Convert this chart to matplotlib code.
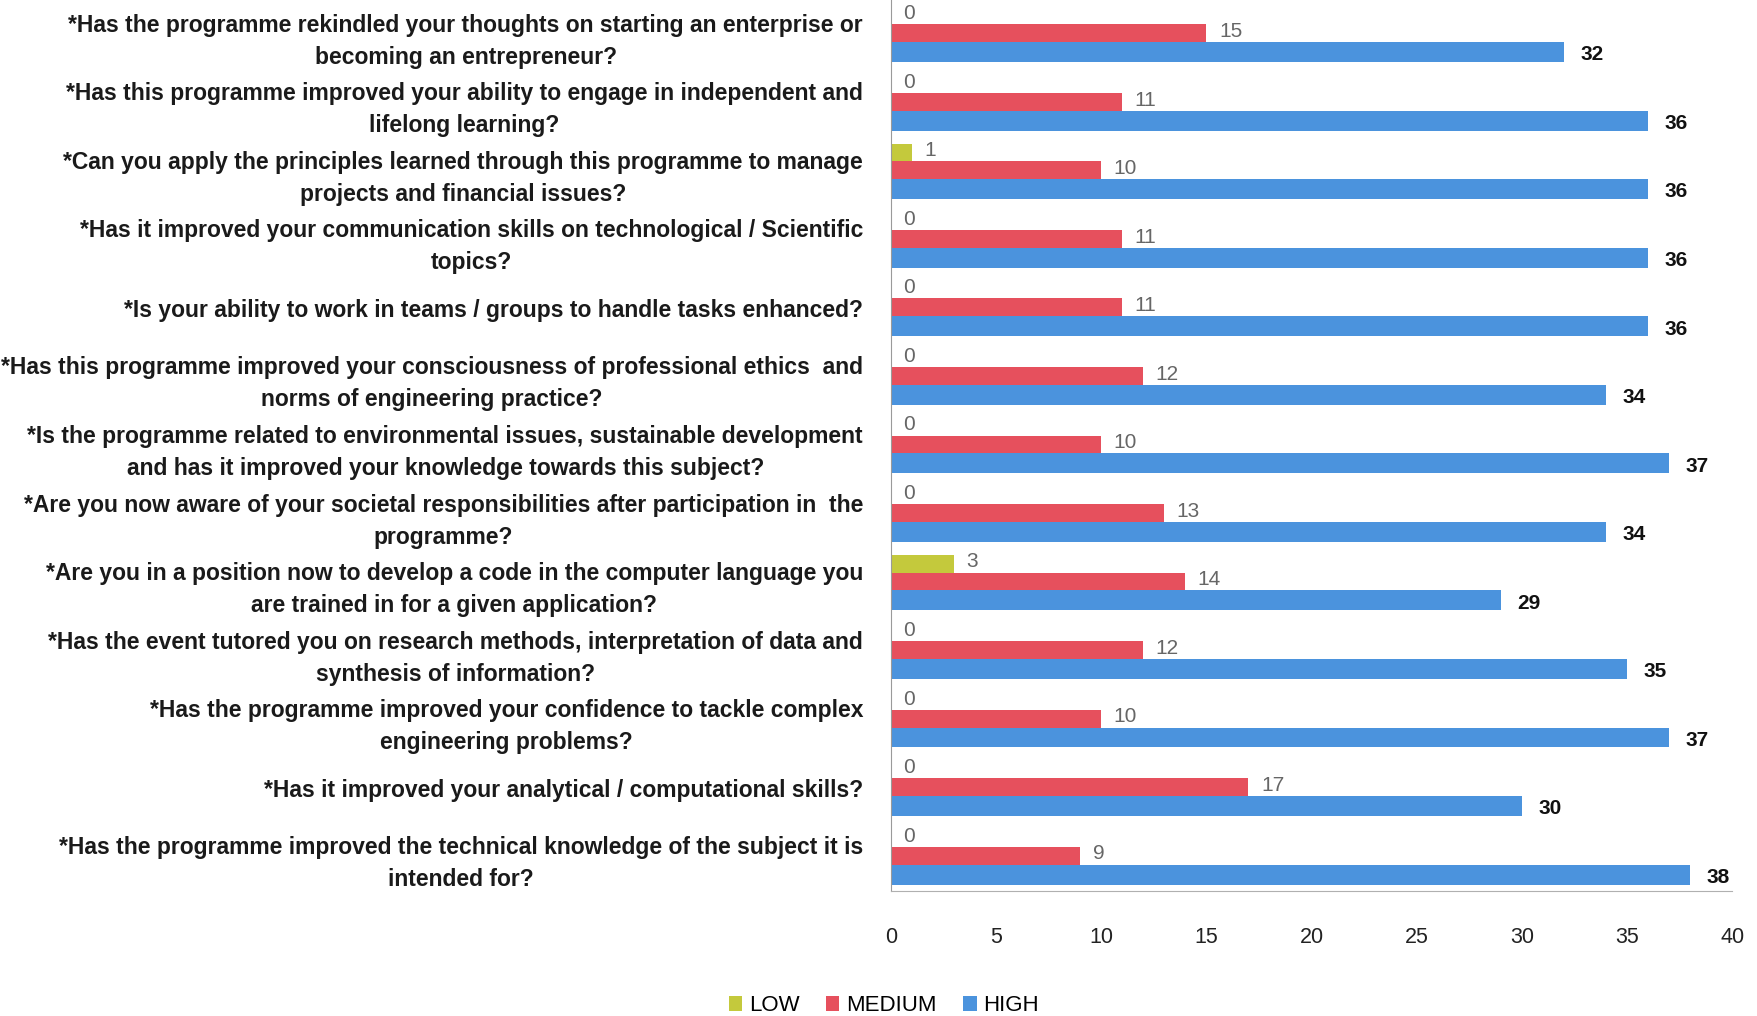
import matplotlib.pyplot as plt
import numpy as np

plt.rcParams["font.family"] = ["Liberation Sans Narrow", "Liberation Sans", "DejaVu Sans"]

questions = [
    "*Has the programme rekindled your thoughts on starting an enterprise or\nbecoming an entrepreneur?",
    "*Has this programme improved your ability to engage in independent and\nlifelong learning?",
    "*Can you apply the principles learned through this programme to manage\nprojects and financial issues?",
    "*Has it improved your communication skills on technological / Scientific\ntopics?",
    "*Is your ability to work in teams / groups to handle tasks enhanced?",
    "*Has this programme improved your consciousness of professional ethics  and\nnorms of engineering practice?",
    "*Is the programme related to environmental issues, sustainable development\nand has it improved your knowledge towards this subject?",
    "*Are you now aware of your societal responsibilities after participation in  the\nprogramme?",
    "*Are you in a position now to develop a code in the computer language you\nare trained in for a given application?",
    "*Has the event tutored you on research methods, interpretation of data and\nsynthesis of information?",
    "*Has the programme improved your confidence to tackle complex\nengineering problems?",
    "*Has it improved your analytical / computational skills?",
    "*Has the programme improved the technical knowledge of the subject it is\nintended for?",
]
low = [0, 0, 1, 0, 0, 0, 0, 0, 3, 0, 0, 0, 0]
medium = [15, 11, 10, 11, 11, 12, 10, 13, 14, 12, 10, 17, 9]
high = [32, 36, 36, 36, 36, 34, 37, 34, 29, 35, 37, 30, 38]
x_ticks = [0, 5, 10, 15, 20, 25, 30, 35, 40]

COLORS = {"LOW": "#c4c93c", "MEDIUM": "#e6505d", "HIGH": "#4b93dd"}

fig = plt.figure(figsize=(17.57, 10.16), dpi=100)
ax = fig.add_axes([0.507, 0.123, 0.479, 0.877])

y = np.arange(len(questions))
step = 0.26
height = 0.29
series = [("LOW", low, -step), ("MEDIUM", medium, 0.0), ("HIGH", high, step)]
for name, vals, off in series:
    bars = ax.barh(y + off, vals, height=height, color=COLORS[name], label=name)
    for rect, v in zip(bars, vals):
        cy = rect.get_y() + rect.get_height() / 2
        if name == "HIGH":
            ax.annotate(str(v), (v, cy), xytext=(12, -2), textcoords="offset points",
                        ha="left", va="center", fontsize=15, fontweight="bold", color="#111111")
        else:
            ax.annotate(str(v), (v, cy), xytext=(9, 2), textcoords="offset points",
                        ha="left", va="center", fontsize=15, color="#666666")

ax.set_ylim(len(questions) - 0.5, -0.5)
ax.set_xlim(0, 40)
ax.set_yticks(y)
ax.set_yticklabels(questions, fontsize=16.5, fontweight="bold", color="#1a1a1a",
                   multialignment="center", linespacing=1.5)
ax.set_xticks(x_ticks)
ax.set_xticklabels([str(t) for t in x_ticks], fontsize=15.5, color="#222222")
ax.tick_params(axis="y", length=0, pad=20)
ax.tick_params(axis="x", length=0, pad=26)

for side in ["top", "right"]:
    ax.spines[side].set_visible(False)
ax.spines["left"].set_color("#9a9a9a")
ax.spines["bottom"].set_color("#b0b0b0")

fig.legend(loc="lower center", bbox_to_anchor=(0.503, -0.02), ncol=3, frameon=False,
           fontsize=16, handlelength=0.6, handleheight=0.6, handletextpad=0.3,
           columnspacing=1.2)

fig.savefig("out.png", dpi=100, facecolor="white")
